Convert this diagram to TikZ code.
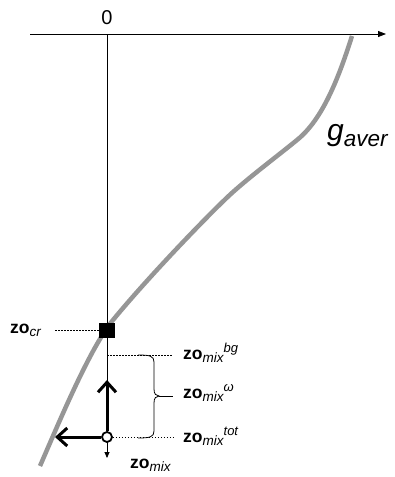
\documentclass[tikz,border=0pt]{standalone}
\usepackage{fontspec}
\setmainfont{Liberation Sans}
\usetikzlibrary{arrows.meta}
\definecolor{curvegray}{RGB}{150,150,150}
\newcommand\zosub[2]{zo\raisebox{-3.5pt}{\fontsize{13.5}{13.5}\selectfont\mdseries\itshape #1}\raisebox{6.5pt}{\fontsize{13}{13}\selectfont\mdseries\itshape #2}}
\begin{document}
\begin{tikzpicture}[x=1pt,y=-1pt,
  lab/.style={anchor=base west, inner sep=0pt, font=\fontsize{17.5}{17.5}\selectfont\bfseries},
  dots/.style={line width=0.7pt, dash pattern=on 1.5pt off 1.5pt},
  thickarrow/.style={line width=3pt, -{Straight Barb[length=10pt,width=18pt]}},
  axis/.style={line width=0.8pt},
  ]
\useasboundingbox (0,0) rectangle (395,477);
% curve
\draw[line width=4.5pt, curvegray] (352,36) .. controls (338,80) and (322,120) .. (297,140)
  .. controls (280,154) and (252,175) .. (233,192)
  .. controls (214,209) and (150,275) .. (113,320)
  .. controls (90,348) and (60,420) .. (40,466);
% axes
\coordinate (xl) at (30,34);
\coordinate (xr) at (386,34);
\coordinate (yt) at (107,34);
\coordinate (yb) at (107,458);
\draw[axis, -{Triangle[length=8pt,width=6pt]}] (xl) -- (xr);
\draw[axis, -{Triangle[length=6pt,width=5pt]}] (yt) -- (yb);
\node[font=\fontsize{20}{20}\selectfont, anchor=base, inner sep=0pt] (zero) at (107,24) {0};
% g_aver
\node[anchor=base west, inner sep=0pt, font=\fontsize{30}{30}\selectfont\itshape] (gav) at (327,140) {g\raisebox{-6pt}{\fontsize{22.5}{22.5}\selectfont aver}};
% square and circle
\node[fill=black, minimum width=16pt, minimum height=15pt, inner sep=0pt] (sq) at (107,330) {};
\coordinate (upend) at (107,380);
\coordinate (leftend) at (55,437);
\node[circle, draw=black, fill=white, line width=1.8pt, minimum size=10pt, inner sep=0pt] (circ) at (107,437) {};
\draw[thickarrow] (circ.north) -- (upend);
\draw[thickarrow] (circ.west) -- (leftend);
% labels
\node[lab] (zocr) at (10,333) {zo\raisebox{-3pt}{\fontsize{13.5}{13.5}\selectfont\mdseries\itshape cr}};
\node[lab] (bg) at (183,359) {\zosub{mix}{bg}};
\node[lab] (om) at (183,398) {\zosub{mix}{ω}};
\node[lab] (tot) at (183,442) {\zosub{mix}{tot}};
\node[lab] (zomix) at (130,468) {zo\raisebox{-3.5pt}{\fontsize{13.5}{13.5}\selectfont\mdseries\itshape mix}};
% dotted lines
\coordinate (crd) at (55,330);
\coordinate (bgL) at (107,355);
\coordinate (bgR) at (173,355);
\coordinate (totR) at (173,437);
\draw[dots] (crd) -- (sq.west);
\draw[dots] (bgL) -- (bgR);
\draw[dots] (circ.east) -- (totR);
% brace
\coordinate (btop) at (138,355);
\coordinate (bbot) at (138,438);
\coordinate (btip) at (159,396);
\coordinate (bline) at (173,396);
\draw[line width=0.8pt] (btop) .. controls (150,355) and (154,356) .. (154,362) -- (154,389) .. controls (154,394) and (156,396) .. (btip)
  .. controls (156,396) and (154,398) .. (154,403) -- (154,431) .. controls (154,437) and (150,438) .. (bbot);
\draw[line width=0.8pt] (btip) -- (bline);
\end{tikzpicture}
\end{document}
